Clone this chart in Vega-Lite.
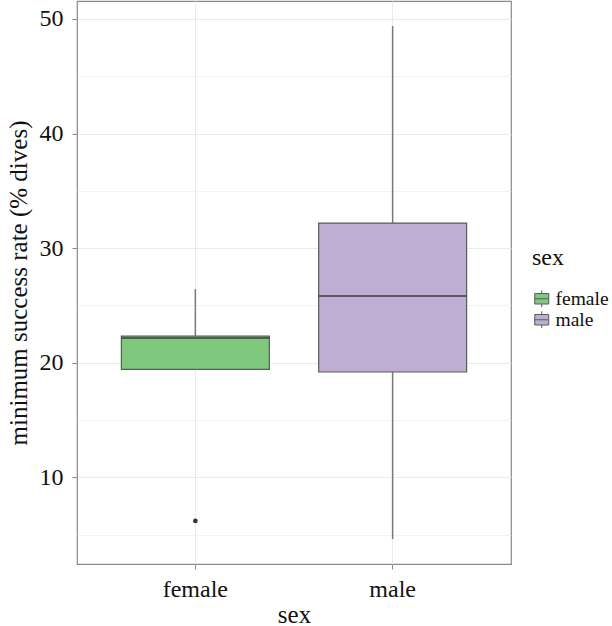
{
  "$schema": "https://vega.github.io/schema/vega-lite/v6.json",
  "width": 434,
  "height": 563,
  "autosize": "none",
  "padding": {"left": 77, "top": 1, "right": 101, "bottom": 62},
  "background": "white",
  "config": {
    "font": "Liberation Serif",
    "view": {"stroke": "#8a8a8a", "strokeWidth": 1.2},
    "axis": {"domain": false, "labelFont": "Liberation Serif", "titleFont": "Liberation Serif", "labelColor": "#111", "titleColor": "#111", "titleFontWeight": "normal", "tickColor": "#8a8a8a", "gridColor": "#ebebeb"}
  },
  "datasets": {
    "boxes": [
      {"sex": "female", "lower": 19.42, "q1": 19.42, "median": 22.16, "q3": 22.33, "upper": 26.43},
      {"sex": "male", "lower": 4.62, "q1": 19.19, "median": 25.82, "q3": 32.19, "upper": 49.38}
    ],
    "outliers": [
      {"sex": "female", "value": 6.19}
    ]
  },
  "layer": [
    {
      "data": {"name": "boxes"},
      "mark": {"type": "rule", "color": "#7a7a7a", "strokeWidth": 1.5},
      "encoding": {
        "x": {"field": "sex", "type": "nominal", "scale": {"paddingInner": 0, "paddingOuter": 0.1},
              "axis": {"title": "sex", "labelAngle": 0, "labelFontSize": 24, "titleFontSize": 25, "labelPadding": 8, "titlePadding": 1, "tickSize": 5, "grid": true, "gridColor": "#ebebeb", "bandPosition": 0.5}},
        "y": {"field": "lower", "type": "quantitative", "scale": {"domain": [2.43, 51.57], "nice": false, "zero": false},
              "axis": {"title": "minimum success rate (% dives)", "values": [5, 10, 15, 20, 25, 30, 35, 40, 45, 50],
                       "labelExpr": "datum.value % 10 == 0 ? datum.label : ''",
                       "tickOpacity": {"condition": {"test": "datum.value % 10 != 0", "value": 0}, "value": 1},
                       "gridWidth": {"condition": {"test": "datum.value % 10 != 0", "value": 0.6}, "value": 1},
                       "labelFontSize": 24, "titleFontSize": 25, "tickSize": 5, "labelPadding": 9, "titlePadding": 8}},
        "y2": {"field": "upper"}
      }
    },
    {
      "data": {"name": "boxes"},
      "mark": {"type": "bar", "width": {"band": 0.75}, "stroke": "#5a5a5a", "strokeWidth": 1.2},
      "encoding": {
        "x": {"field": "sex", "type": "nominal"},
        "y": {"field": "q1", "type": "quantitative"},
        "y2": {"field": "q3"},
        "fill": {"field": "sex", "type": "nominal",
                 "scale": {"domain": ["female", "male"], "range": ["#7fc97f", "#beaed4"]},
                 "legend": {"title": "sex", "orient": "none", "legendX": 455, "legendY": 245,
                            "titleFont": "Liberation Serif", "titleFontSize": 24, "titleFontWeight": "normal", "titleColor": "#111", "titlePadding": 19,
                            "labelFont": "Liberation Serif", "labelFontSize": 19.5, "labelColor": "#111", "labelOffset": 4,
                            "symbolType": "M-1,-0.75H1V0.75H-1Z M-1,0H1 M0,-0.75V-1.2 M0,0.75V1.2",
                            "symbolSize": 196, "symbolStrokeColor": "#5a5a5a", "symbolStrokeWidth": 1, "rowPadding": -1.5}}
      }
    },
    {
      "data": {"name": "boxes"},
      "mark": {"type": "tick", "color": "#333333", "thickness": 2.2, "size": 148},
      "encoding": {
        "x": {"field": "sex", "type": "nominal"},
        "y": {"field": "median", "type": "quantitative"}
      }
    },
    {
      "data": {"name": "outliers"},
      "mark": {"type": "point", "filled": true, "color": "#333333", "size": 22, "opacity": 1},
      "encoding": {
        "x": {"field": "sex", "type": "nominal"},
        "y": {"field": "value", "type": "quantitative"}
      }
    }
  ]
}
